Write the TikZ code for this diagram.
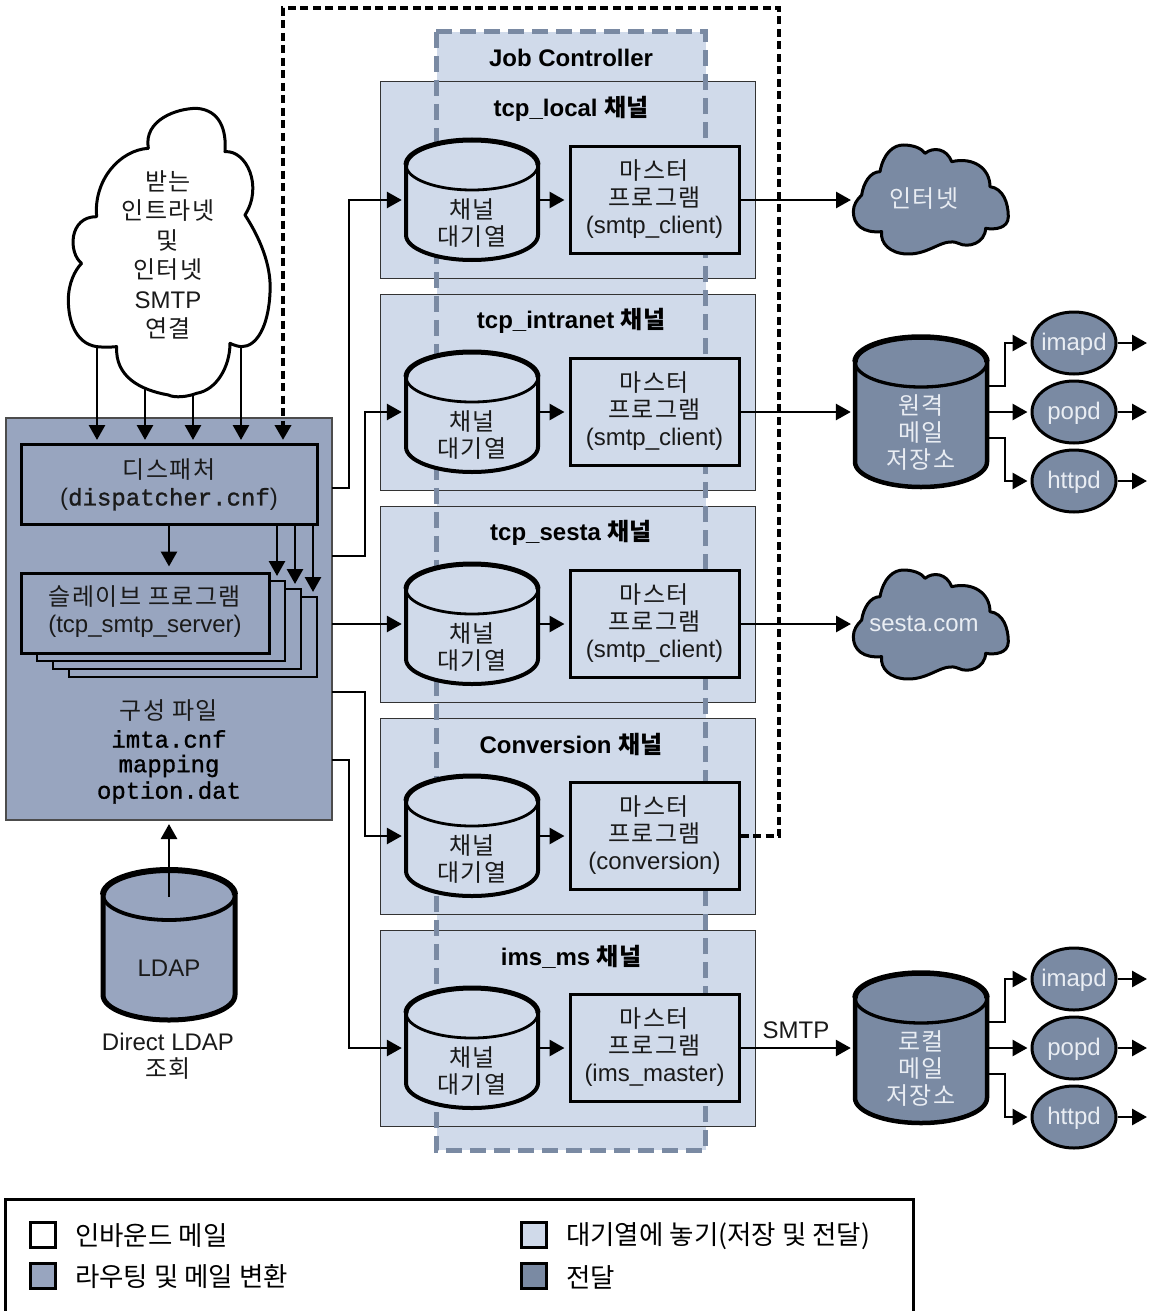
\documentclass[tikz,border=0pt]{standalone}
\usepackage{fontspec}
\setmainfont{Liberation Sans}
\setmonofont{Liberation Mono}[FakeBold=1.2]
\newfontfamily\ko{Noto Sans CJK KR}[LetterSpace=6]
\newfontfamily\kotight{Noto Sans CJK KR}
\usetikzlibrary{arrows.meta,shapes.geometric,calc}
\definecolor{lightb}{HTML}{D0DAEA}
\definecolor{midb}{HTML}{98A5BF}
\definecolor{darkb}{HTML}{7A8AA3}
\definecolor{softw}{HTML}{E9EDF3}
\definecolor{ink}{HTML}{1A1A1A}
\tikzset{
 conn/.style={line width=2.8pt,draw=black,-{Triangle[length=15pt,width=16pt]}},
 txt/.style={align=center,inner sep=0pt,text=ink,font=\fontsize{24}{27}\selectfont},
 title/.style={align=center,inner sep=0pt,text=black,font=\fontsize{24}{27}\selectfont\bfseries},
 mono/.style={align=center,inner sep=0pt,text=black,font=\fontsize{24}{27}\selectfont\ttfamily},
 boxed/.style={draw=black,line width=3pt,inner sep=0pt},
 anchorbox/.style={inner sep=0pt,minimum width=132pt,minimum height=120pt},
 chanbox/.style={draw=black!80,line width=1pt,fill=lightb,inner sep=0pt,minimum width=375pt,minimum height=196pt},
 svc/.style={ellipse,draw=black,line width=3pt,fill=darkb,inner sep=0pt,minimum width=84pt,minimum height=62pt,text=softw,font=\fontsize{24}{27}\selectfont},
 swatch/.style={draw=black,line width=3pt,inner sep=0pt,minimum width=25pt,minimum height=25pt},
 legtxt/.style={anchor=west,inner sep=0pt,text=black,font=\fontsize{26.5}{27}\selectfont},
}
% centre x, centre y, line width, fill, half length of the straight side
\newcommand\drumshape[5]{%
 \fill[#4] (#1-66,#2-#5) arc[start angle=180,end angle=0,x radius=66pt,y radius=25pt] -- (#1+66,#2+#5)
   arc[start angle=0,end angle=-180,x radius=66pt,y radius=25pt] -- cycle;
 \draw[line width=#3pt,line join=round] (#1-66,#2-#5) -- (#1-66,#2+#5) arc[start angle=180,end angle=360,x radius=66pt,y radius=25pt] -- (#1+66,#2-#5);
 \draw[line width=#3pt-1.2pt] (#1-66,#2-#5) arc[start angle=180,end angle=360,x radius=66pt,y radius=25pt];
 \draw[line width=#3pt+1pt] (#1-66,#2-#5) arc[start angle=180,end angle=0,x radius=66pt,y radius=25pt];
}
\newcommand\cloudright{%
 (65,195) .. controls (70,160) and (90,125) .. (120,125)
 .. controls (130,70) and (160,45) .. (190,45)
 .. controls (220,45) and (245,55) .. (255,70)
 .. controls (280,50) and (320,55) .. (335,95)
 .. controls (400,80) and (450,115) .. (450,170)
 .. controls (490,175) and (505,220) .. (505,260)
 .. controls (505,295) and (465,300) .. (437,295)
 .. controls (435,340) and (385,355) .. (355,340)
 .. controls (310,320) and (270,375) .. (200,372)
 .. controls (150,370) and (120,340) .. (125,305)
 .. controls (70,310) and (40,285) .. (40,245)
 .. controls (40,225) and (50,210) .. (65,195) -- cycle}
\newcommand\chan[3]{% id, n, program
 \begin{scope}[yshift=-#2*212pt]
  \drumshape{472}{200}{4}{lightb}{35}
  \node[anchorbox] (q#1) at (472,200) {};
  \node[txt] (qt#1) at (472,223) {{\ko 채널}\\{\ko 대기열}};
  \node[boxed,fill=lightb,minimum width=169pt,minimum height=107pt] (m#1) at (654.5,200) {};
  \node[txt] (mt#1) at (654.5,199) {{\ko 마스터}\\{\ko 프로그램}\\#3};
 \end{scope}
}
\newcommand\svctext[1]{\makebox[0pt]{\raisebox{-7.5pt}[0pt][0pt]{#1}}}
\begin{document}
\begin{tikzpicture}[x=1pt,y=-1pt]
\useasboundingbox (0,0) rectangle (1149,1311);
\fill[white] (0,0) rectangle (1149,1311);

% Job Controller background
\node[fill=lightb,inner sep=0pt,minimum width=269pt,minimum height=1118pt] (job) at (571,591) {};
% channels
\foreach \i/\n in {1/0,2/1,3/2,4/3,5/4}{
 \node[chanbox] (c\i) at (567.5,180+\n*212) {};
}
\draw[draw=darkb,line width=5pt,dash pattern=on 16pt off 8pt] (job.north west) rectangle (job.south east);
\node[title] (jobt) at (571,58) {Job Controller};
\node[title] (ct1) at (571,109) {tcp\_local {\kotight 채널}};
\node[title] (ct2) at (571,321) {tcp\_intranet {\kotight 채널}};
\node[title] (ct3) at (571,533) {tcp\_sesta {\kotight 채널}};
\node[title] (ct4) at (571,744) {Conversion {\kotight 채널}};
\node[title] (ct5) at (571,957) {ims\_ms {\kotight 채널}};

\chan{1}{0}{(smtp\_client)}
\chan{2}{1}{(smtp\_client)}
\chan{3}{2}{(smtp\_client)}
\chan{4}{3}{(conversion)}
\chan{5}{4}{(ims\_master)}

% Left cloud
\begin{scope}[shift={(50,100)},x=0.3333pt,y=-0.3333pt]
\draw[line width=3pt,fill=white,line join=round]
 (140,350) .. controls (130,240) and (210,150) .. (295,145)
 .. controls (280,60) and (380,25) .. (440,25)
 .. controls (510,30) and (530,90) .. (525,155)
 .. controls (590,150) and (640,260) .. (585,345)
 .. controls (640,430) and (665,510) .. (660,580)
 .. controls (655,680) and (620,740) .. (575,740)
 .. controls (565,740) and (550,735) .. (540,730)
 .. controls (540,800) and (500,870) .. (440,880)
 .. controls (415,890) and (375,895) .. (355,885)
 .. controls (270,870) and (195,830) .. (200,740)
 .. controls (180,742) and (160,742) .. (140,740)
 .. controls (75,730) and (55,660) .. (55,600)
 .. controls (55,550) and (75,510) .. (95,490)
 .. controls (55,460) and (55,350) .. (140,350) -- cycle;
\end{scope}
\node[txt,font=\fontsize{24}{29.4}\selectfont] (cloudt) at (168,255) {{\ko 받는}\\{\ko 인트라넷}\\{\ko 및}\\{\ko 인터넷}\\SMTP\\{\ko 연결}};
\coordinate (cl1) at (97,346);
\coordinate (cl2) at (145,387);
\coordinate (cl3) at (193,395);
\coordinate (cl4) at (241,346);

% MTA block
\node[draw=black!70,line width=1.2pt,fill=midb,inner sep=0pt,minimum width=326pt,minimum height=402pt] (mta) at (169,619) {};
\node[boxed,fill=midb,minimum width=296pt,minimum height=80pt] (disp) at (169,484) {};
\node[txt] (dispt) at (169,484.5) {{\ko 디스패처}\\({\ttfamily dispatcher.cnf})};
\node[draw=black,line width=2.6pt,fill=midb,inner sep=0pt,minimum width=248pt,minimum height=80pt] (s4) at (193,637) {};
\node[draw=black,line width=2.6pt,fill=midb,inner sep=0pt,minimum width=248pt,minimum height=80pt] (s3) at (177,629) {};
\node[draw=black,line width=2.6pt,fill=midb,inner sep=0pt,minimum width=248pt,minimum height=80pt] (s2) at (161,621) {};
\node[boxed,fill=midb,minimum width=248pt,minimum height=80pt] (s1) at (145,613) {};
\node[txt] (s1t) at (145,612) {{\ko 슬레이브 프로그램}\\(tcp\_smtp\_server)};
\node[txt] (cfg0) at (169,711) {{\ko 구성 파일}};
\node[mono] (cfg1) at (169,739) {imta.cnf};
\node[mono] (cfg2) at (169,766) {mapping};
\node[mono] (cfg3) at (169,792.5) {option.dat};

\coordinate (d1) at (277,524);
\coordinate (d2) at (295,524);
\coordinate (d3) at (313,524);
\coordinate (t1) at (277,576);
\coordinate (t2) at (295,584);
\coordinate (t3) at (313,592);
\coordinate (h1) at (97,440);
\coordinate (h2) at (145,440);
\coordinate (h3) at (193,440);
\coordinate (h4) at (241,440);
\coordinate (h5) at (283,440);

\draw[conn] (cl1) -- (h1);
\draw[conn] (cl2) -- (h2);
\draw[conn] (cl3) -- (h3);
\draw[conn] (cl4) -- (h4);
\draw[conn,shorten >=5pt] (disp.south) -- (disp.south |- s1.north);
\draw[conn] (d1) -- (t1);
\draw[conn] (d2) -- (t2);
\draw[conn] (d3) -- (t3);

% routes out of the MTA block
\coordinate (o1) at (332,488);
\coordinate (o2) at (332,556);
\coordinate (o3) at (332,624);
\coordinate (o4) at (332,692);
\coordinate (o5) at (332,760);
\draw[conn,shorten >=4pt] (o1) -- ++(17,0) |- (q1.west);
\draw[conn,shorten >=4pt] (o2) -- ++(33,0) |- (q2.west);
\draw[conn,shorten >=4pt] (o3) -- (q3.west);
\draw[conn,shorten >=4pt] (o4) -- ++(33,0) |- (q4.west);
\draw[conn,shorten >=4pt] (o5) -- ++(17,0) |- (q5.west);
\foreach \i in {1,2,3,4,5}{
 \draw[conn,shorten >=4pt] (q\i.east) -- (m\i.west);
}

% Feedback
\coordinate (fb1) at (779,836);
\coordinate (fb2) at (779,8);
\coordinate (fb3) at (283,8);
\draw[line width=4pt,dash pattern=on 8pt off 4.5pt,-{Triangle[length=15pt,width=16pt]}] (m4.east) -- (fb1) -- (fb2) -- (fb3) -- (h5);

% Internet cloud
\begin{scope}[shift={(840,130)},x=0.3333pt,y=-0.3333pt]
\draw[line width=3pt,fill=darkb,line join=round] \cloudright;
\end{scope}
\node[inner sep=0pt,text=softw,font=\fontsize{24}{27}\selectfont] (inet) at (924,199) {{\ko 인터넷}};
\begin{scope}[shift={(840,555)},x=0.3333pt,y=-0.3333pt]
\draw[line width=3pt,fill=darkb,line join=round] \cloudright;
\end{scope}
\node[inner sep=0pt,text=softw,font=\fontsize{24}{27}\selectfont] (sesta) at (924,624) {sesta.com};
\coordinate (inetin) at (855,200);
\coordinate (sestain) at (855,624);
\draw[conn,shorten >=4pt] (m1.east) -- (inetin);
\draw[conn,shorten >=4pt] (m3.east) -- (sestain);

% Stores
\drumshape{921}{412}{4.5}{darkb}{50}
\node[anchorbox,minimum height=150pt] (st1) at (921,412) {};
\node[txt,text=softw,font=\fontsize{24}{27}\selectfont] (st1t) at (921,433) {{\ko 원격}\\{\ko 메일}\\{\ko 저장소}};
\drumshape{921}{1048}{4.5}{darkb}{50}
\node[anchorbox,minimum height=150pt] (st2) at (921,1048) {};
\node[txt,text=softw,font=\fontsize{24}{27}\selectfont] (st2t) at (921,1069) {{\ko 로컬}\\{\ko 메일}\\{\ko 저장소}};
\draw[conn,shorten >=4pt] (m2.east) -- (st1.west);
\draw[conn,shorten >=4pt] (m5.east) -- (st2.west);
\node[txt,font=\fontsize{24}{27}\selectfont] (smtpl) at (796,1030) {SMTP};

\foreach \st/\cy/\nm in {st1/412/a,st2/1048/b}{
 \node[svc] (imap\nm) at (1074,\cy-69) {\svctext{imapd}};
 \node[svc] (pop\nm) at (1074,\cy) {\svctext{popd}};
 \node[svc] (http\nm) at (1074,\cy+69) {\svctext{httpd}};
 \coordinate (u\nm) at (988,\cy-26);
 \coordinate (l\nm) at (988,\cy+26);
 \coordinate (e1\nm) at (1147,\cy-69);
 \coordinate (e2\nm) at (1147,\cy);
 \coordinate (e3\nm) at (1147,\cy+69);
 \draw[conn,shorten >=3pt] (u\nm) -- ++(17,0) |- (imap\nm.west);
 \draw[conn,shorten >=3pt] (\st.east) -- (pop\nm.west);
 \draw[conn,shorten >=3pt] (l\nm) -- ++(17,0) |- (http\nm.west);
 \draw[conn] (imap\nm.east) -- (e1\nm);
 \draw[conn] (pop\nm.east) -- (e2\nm);
 \draw[conn] (http\nm.east) -- (e3\nm);
}

% LDAP
\drumshape{169}{945}{5}{midb}{50}
\node[anchorbox,minimum height=150pt] (ldap) at (169,945) {};
\node[txt] (ldapt) at (169,968) {LDAP};
\node[txt,font=\fontsize{24}{27}\selectfont] (ldapc) at (168,1056) {Direct LDAP\\{\ko 조회}};
\coordinate (ldaptop) at (169,897);
\coordinate (mtabot) at (169,824);
\draw[conn] (ldaptop) -- (mtabot);

% Legend
\draw[line width=3pt] (5,1320) -- (5,1199) -- (913,1199) -- (913,1320);
\node[swatch,fill=white] (l1) at (42.5,1235) {};
\node[swatch,fill=midb] (l2) at (42.5,1275.5) {};
\node[swatch,fill=lightb] (l3) at (533.5,1235) {};
\node[swatch,fill=darkb] (l4) at (533.5,1275.5) {};
\node[legtxt] (lt1) at (75,1236) {{\kotight 인바운드 메일}};
\node[legtxt] (lt2) at (75,1277) {{\kotight 라우팅 및 메일 변환}};
\node[legtxt] (lt3) at (566,1236) {{\kotight 대기열에 놓기(저장 및 전달)}};
\node[legtxt] (lt4) at (566,1277) {{\kotight 전달}};
\end{tikzpicture}
\end{document}
